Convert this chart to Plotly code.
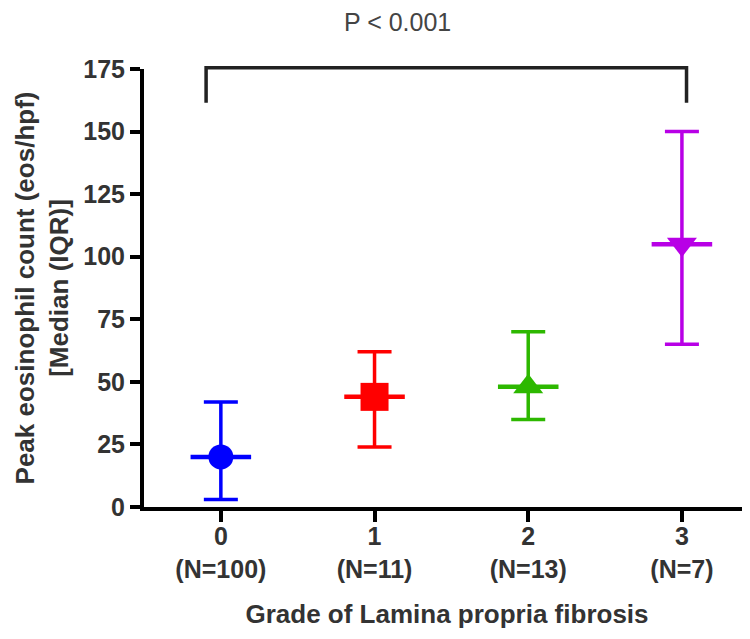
import plotly.graph_objects as go

grades = [0, 1, 2, 3]
n_labels = ["(N=100)", "(N=11)", "(N=13)", "(N=7)"]
medians = [20, 44, 48, 105]
q1 = [3, 24, 35, 65]
q3 = [42, 62, 70, 150]
colors = ["#0000FF", "#FF0000", "#2DB800", "#B800E6"]
symbols = ["circle", "square", "triangle-up", "triangle-down"]
marker_sizes = [25, 28, 26, 26]
y_ticks = [0, 25, 50, 75, 100, 125, 150, 175]
p_text = "P < 0.001"

FONT = "Liberation Sans, Arial, sans-serif"
TXT = "#333333"
fig = go.Figure()
for i, g in enumerate(grades):
    fig.add_trace(go.Scatter(
        x=[g], y=[medians[i]], mode="markers",
        marker=dict(color=colors[i], symbol=symbols[i], size=marker_sizes[i], line=dict(width=0)),
        error_y=dict(type="data", symmetric=False, array=[q3[i] - medians[i]],
                     arrayminus=[medians[i] - q1[i]], color=colors[i], thickness=3.5, width=17),
        error_x=dict(type="data", symmetric=True, array=[0.197], color=colors[i], thickness=4.5, width=0),
        showlegend=False, cliponaxis=False,
    ))

fig.update_layout(
    width=742, height=631,
    margin=dict(l=136, r=0, t=61, b=132),
    plot_bgcolor="white", paper_bgcolor="white",
    font=dict(family=FONT, color=TXT),
    xaxis=dict(range=[-0.5, 3.443], tickvals=grades,
               ticktext=[f"{g}<br>{n}" for g, n in zip(grades, n_labels)],
               showline=True, linecolor="black", linewidth=4, ticks="outside",
               tickwidth=4, ticklen=11, tickcolor="black", showgrid=False, zeroline=False,
               ticklabelstandoff=-7,
               tickfont=dict(size=25, weight="bold", color=TXT),
               title=dict(text="Grade of Lamina propria fibrosis", standoff=24,
                          font=dict(size=26, weight="bold", color=TXT))),
    yaxis=dict(range=[0, 175], tickvals=y_ticks,
               showline=True, linecolor="black", linewidth=4, ticks="outside",
               tickwidth=4, ticklen=10, tickcolor="black", showgrid=False, zeroline=False,
               tickfont=dict(size=25, weight="bold", color=TXT),
               title=dict(text="Peak eosinophil count (eos/hpf)<br>[Median (IQR)]", standoff=8,
                          font=dict(size=26, weight="bold", color=TXT))),
)

# significance bracket
bx0, bx1 = -0.096, 3.03
fig.add_shape(type="path", xref="x", yref="paper",
              path=f"M {bx0},0.923 L {bx0},1.003 L {bx1},1.003 L {bx1},0.923",
              line=dict(color="#222222", width=3.5))
fig.add_annotation(x=1.147, y=1.108, xref="x", yref="paper", yanchor="middle",
                   text=p_text, showarrow=False,
                   font=dict(size=25, color="#444444", family=FONT))

fig.write_html("out.html")
